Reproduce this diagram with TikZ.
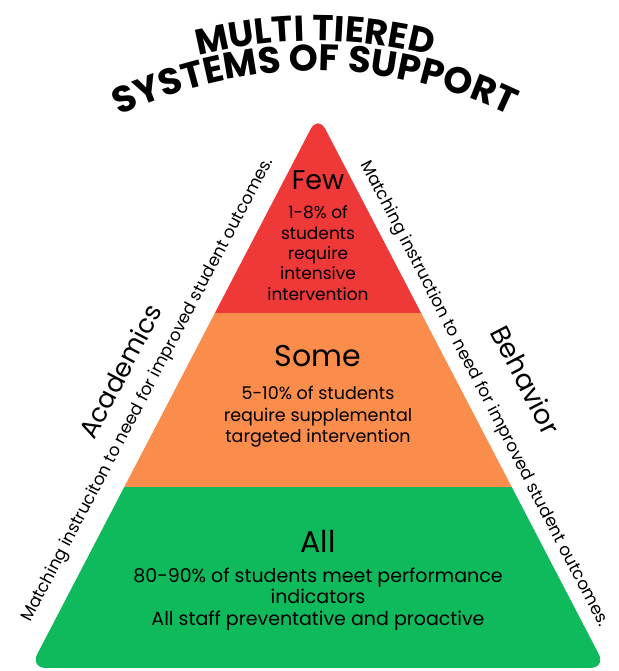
\documentclass[tikz,border=0pt]{standalone}
\usepackage{fontspec}
\setmainfont{Poppins}
\usetikzlibrary{decorations.text}
\definecolor{tierred}{RGB}{239,56,56}
\definecolor{tierorange}{RGB}{250,140,76}
\definecolor{tiergreen}{RGB}{14,186,92}
\newcommand{\fs}[2]{\fontsize{#1}{#2}\selectfont}
\tikzset{
  tiertitle/.style={inner sep=0pt, text=black},
  tiertext/.style={inner sep=0pt, align=center, text=black},
  sidetext/.style={inner sep=0pt, text=black},
}
\begin{document}
\begin{tikzpicture}[x=1pt,y=1pt]
\useasboundingbox (0,0) rectangle (618,671);
\fill[white] (0,0) rectangle (618,671);
% pyramid
\coordinate (apex) at (318,556);
\coordinate (bl) at (30,3);
\coordinate (br) at (606,3);
\begin{scope}
  \clip[rounded corners=16pt] (apex) -- (bl) -- (br) -- cycle;
  \fill[tierred] (0,358) rectangle (618,671);
  \fill[tierorange] (0,184) rectangle (618,358);
  \fill[tiergreen] (0,0) rectangle (618,184);
\end{scope}
% tier texts
\node[tiertitle, font=\fs{27}{27}] (few) at (318,491) {Few};
\node[tiertext, font=\fs{17}{20.3}] (fewtxt) at (318,418) {1-8\% of\\students\\require\\intensive\\intervention};
\node[tiertitle, font=\fs{30}{30}] (some) at (318,315) {Some};
\node[tiertext, font=\fs{17.5}{21.5}] (sometxt) at (318,254) {5-10\% of students\\require supplemental\\targeted intervention};
\node[tiertitle, font=\fs{30}{30}] (all) at (318,130) {All};
\node[tiertext, font=\fs{19}{21.5}] (alltxt) at (318,72) {80-90\% of students meet performance\\indicators\\All staff preventative and proactive};
% side texts
\node[sidetext, rotate=62.3, font=\fs{17}{17}] (lefttxt) at (148,281) {Matching instruciton to need for improved student outcomes.};
\node[sidetext, rotate=62.3, font=\fs{26}{26}] (academics) at (120,300) {Academics};
\node[sidetext, rotate=-62.7, font=\fs{17}{17}] (righttxt) at (484,277) {Matching instruction to need for improved student outcomes.};
\node[sidetext, rotate=-62.7, font=\fs{27}{27}] (behavior) at (526,291) {Behavior};
% title
\path[decorate, decoration={text along path, text align=center,
  text={|\bfseries\fs{36}{36}|MULTI TIERED}}]
  (315,151) ++(120:479) arc[start angle=120, end angle=60, radius=479];
\path[decorate, decoration={text along path, text align=center,
  text={|\bfseries\fs{37}{37}|SYSTEMS OF SUPPORT}}]
  (315,151) ++(125:449) arc[start angle=125, end angle=55, radius=449];
\end{tikzpicture}
\end{document}
